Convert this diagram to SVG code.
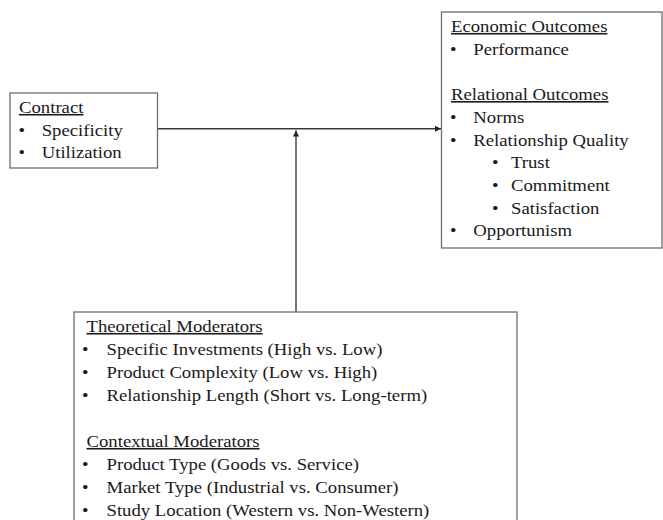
<svg xmlns="http://www.w3.org/2000/svg" width="663" height="520" viewBox="0 0 663 520">
<style>
.box{fill:#fff;stroke:#6e6e6e;stroke-width:1.3}
.t{font-family:"Liberation Serif","Times New Roman",serif;font-size:16px;fill:#1a1a1a}
.u{text-decoration:underline}
.conn{stroke:#3a3a3a;stroke-width:1.4;fill:none}
</style>
<defs>
<marker id="arr" markerUnits="userSpaceOnUse" markerWidth="7" markerHeight="7" refX="6" refY="3" orient="auto">
<path d="M0,0 L6,3 L0,6 z" fill="#222"/>
</marker>
</defs>
<rect width="663" height="520" fill="#fff"/>
<g id="connectors">
<line class="conn" x1="157" y1="128.7" x2="441" y2="128.7" marker-end="url(#arr)"/>
<line class="conn" x1="296" y1="312" x2="296" y2="130.5" marker-end="url(#arr)"/>
</g>
<g id="contract">
<rect class="box" x="10" y="93" width="147.5" height="75"/>
<text class="t u" transform="translate(19 113) scale(1.17 1)">Contract</text>
<text class="t" transform="translate(18.5 135.5) scale(1.17 1)">•</text>
<text class="t" transform="translate(41.7 135.5) scale(1.17 1)">Specificity</text>
<text class="t" transform="translate(18.5 158) scale(1.17 1)">•</text>
<text class="t" transform="translate(41.7 158) scale(1.17 1)">Utilization</text>
</g>
<g id="outcomes">
<rect class="box" x="441.5" y="12" width="220.5" height="236"/>
<text class="t u" transform="translate(451 32) scale(1.17 1)">Economic Outcomes</text>
<text class="t" transform="translate(450.1 54.7) scale(1.17 1)">•</text>
<text class="t" transform="translate(473.3 54.7) scale(1.17 1)">Performance</text>
<text class="t u" transform="translate(451 100.1) scale(1.17 1)">Relational Outcomes</text>
<text class="t" transform="translate(450.1 122.8) scale(1.17 1)">•</text>
<text class="t" transform="translate(473.3 122.8) scale(1.17 1)">Norms</text>
<text class="t" transform="translate(450.1 145.5) scale(1.17 1)">•</text>
<text class="t" transform="translate(473.3 145.5) scale(1.17 1)">Relationship Quality</text>
<text class="t" transform="translate(492.1 168.2) scale(1.17 1)">•</text>
<text class="t" transform="translate(511 168.2) scale(1.17 1)">Trust</text>
<text class="t" transform="translate(492.1 190.9) scale(1.17 1)">•</text>
<text class="t" transform="translate(511 190.9) scale(1.17 1)">Commitment</text>
<text class="t" transform="translate(492.1 213.6) scale(1.17 1)">•</text>
<text class="t" transform="translate(511 213.6) scale(1.17 1)">Satisfaction</text>
<text class="t" transform="translate(450.1 236.3) scale(1.17 1)">•</text>
<text class="t" transform="translate(473.3 236.3) scale(1.17 1)">Opportunism</text>
</g>
<g id="moderators">
<rect class="box" x="74" y="312" width="443" height="220"/>
<text class="t u" transform="translate(86.5 332) scale(1.17 1)">Theoretical Moderators</text>
<text class="t" transform="translate(82 355) scale(1.17 1)">•</text>
<text class="t" transform="translate(106.5 355) scale(1.17 1)">Specific Investments (High vs. Low)</text>
<text class="t" transform="translate(82 378) scale(1.17 1)">•</text>
<text class="t" transform="translate(106.5 378) scale(1.17 1)">Product Complexity (Low vs. High)</text>
<text class="t" transform="translate(82 401) scale(1.17 1)">•</text>
<text class="t" transform="translate(106.5 401) scale(1.17 1)">Relationship Length (Short vs. Long-term)</text>
<text class="t u" transform="translate(86.5 447) scale(1.17 1)">Contextual Moderators</text>
<text class="t" transform="translate(82 470) scale(1.17 1)">•</text>
<text class="t" transform="translate(106.5 470) scale(1.17 1)">Product Type (Goods vs. Service)</text>
<text class="t" transform="translate(82 493) scale(1.17 1)">•</text>
<text class="t" transform="translate(106.5 493) scale(1.17 1)">Market Type (Industrial vs. Consumer)</text>
<text class="t" transform="translate(82 516) scale(1.17 1)">•</text>
<text class="t" transform="translate(106.5 516) scale(1.17 1)">Study Location (Western vs. Non-Western)</text>
</g>
</svg>
